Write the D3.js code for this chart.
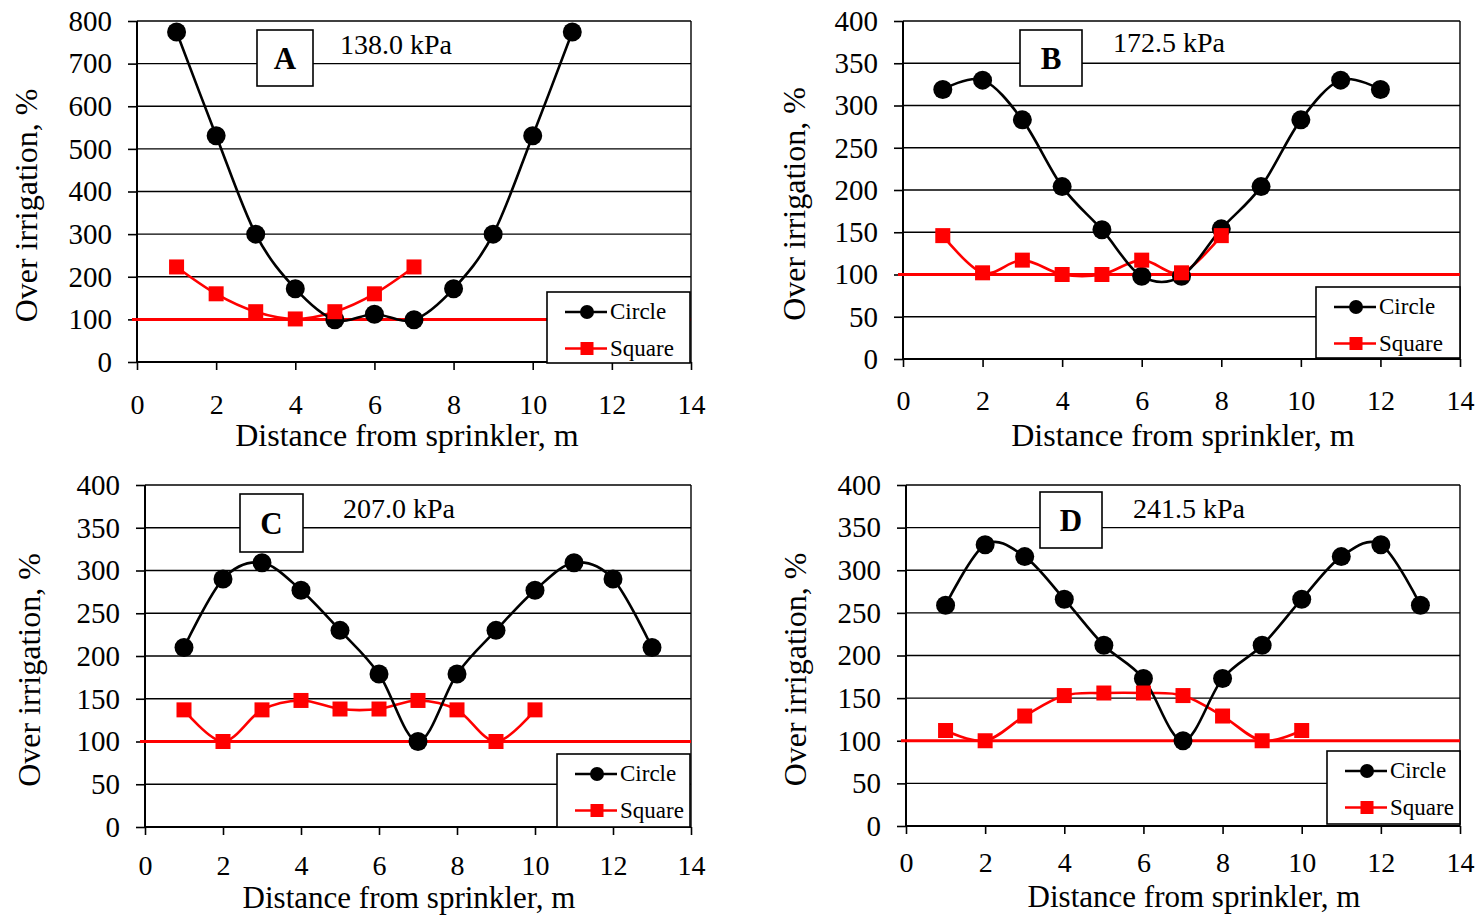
<!DOCTYPE html>
<html>
<head>
<meta charset="utf-8">
<script src="https://cdn.jsdelivr.net/npm/d3@7"></script>
<style>
  html, body { margin: 0; padding: 0; background: #fff; }
  svg { display: block; font-family: "Liberation Serif", "Times New Roman", serif; }
</style>
</head>
<body>
<svg id="chart" width="1480" height="919"></svg>
<script>
// Over-irrigation (%) versus distance from the sprinkler, for circle and square layouts
const panelLetters = ["A", "B", "C", "D"];
const pressureLabels = ["138.0 kPa", "172.5 kPa", "207.0 kPa", "241.5 kPa"];
const seriesNames = ["Circle", "Square"];

const xTickValues = [0, 2, 4, 6, 8, 10, 12, 14];
const yTicksA = [0, 100, 200, 300, 400, 500, 600, 700, 800];
const yTicksBCD = [0, 50, 100, 150, 200, 250, 300, 350, 400];
const referenceLevel = 100;

// 138.0 kPa
const circleDistA = [1, 2, 3, 4, 5, 6, 7, 8, 9, 10, 11];
const circleA = [774, 531, 300, 172, 99, 112, 99, 172, 300, 531, 774];
const squareDistA = [1, 2, 3, 4, 5, 6, 7];
const squareA = [223, 160, 118, 101, 118, 160, 223];

// 172.5 kPa
const circleDistB = [1, 2, 3, 4, 5, 6, 7, 8, 9, 10, 11, 12];
const circleB = [319, 330, 283, 204, 153, 98, 98, 154, 204, 283, 330, 319];
const squareDistB = [1, 2, 3, 4, 5, 6, 7, 8];
const squareB = [146, 102, 117, 100, 100, 117, 102, 146];

// 207.0 kPa
const circleDistC = [1, 2, 3, 4, 5, 6, 7, 8, 9, 10, 11, 12, 13];
const circleC = [210, 290, 309, 277, 230, 179, 100, 179, 230, 277, 309, 290, 210];
const squareDistC = [1, 2, 3, 4, 5, 6, 7, 8, 9, 10];
const squareC = [137, 100, 137, 148, 138, 138, 148, 137, 100, 137];

// 241.5 kPa
const circleDistD = [1, 2, 3, 4, 5, 6, 7, 8, 9, 10, 11, 12, 13];
const circleD = [259, 330, 316, 266, 212, 173, 100, 173, 212, 266, 316, 330, 259];
const squareDistD = [1, 2, 3, 4, 5, 6, 7, 8, 9, 10];
const squareD = [112, 100, 129, 153, 156, 156, 153, 129, 100, 112];

// Panel geometry (pixels)
const layout = [
  { left: 137, right: 691, top: 21, bottom: 362, yTitleX: 37, xTitleX: 407, xTitleY: 446, xTitleSize: 32, xLabelY: 414,
    box: [257, 30, 56, 56], pressX: 340, pressY: 54, legend: [547, 292, 143, 71] },
  { left: 903, right: 1460, top: 21, bottom: 359, yTitleX: 805, xTitleX: 1183, xTitleY: 446, xTitleSize: 32, xLabelY: 410,
    box: [1020, 30, 62, 56], pressX: 1113, pressY: 52, legend: [1316, 287, 144, 71] },
  { left: 145, right: 691, top: 485, bottom: 827, yTitleX: 40, xTitleX: 409, xTitleY: 908, xTitleSize: 31, xLabelY: 875,
    box: [240, 494, 63, 58], pressX: 343, pressY: 518, legend: [557, 754, 133, 73] },
  { left: 906, right: 1460, top: 485, bottom: 826, yTitleX: 806, xTitleX: 1194, xTitleY: 907, xTitleSize: 31, xLabelY: 872,
    box: [1040, 492, 62, 56], pressX: 1133, pressY: 518, legend: [1327, 751, 133, 73] }
];

const panelData = [
  { yTicks: yTicksA, circle: [circleDistA, circleA], square: [squareDistA, squareA] },
  { yTicks: yTicksBCD, circle: [circleDistB, circleB], square: [squareDistB, squareB] },
  { yTicks: yTicksBCD, circle: [circleDistC, circleC], square: [squareDistC, squareC] },
  { yTicks: yTicksBCD, circle: [circleDistD, circleD], square: [squareDistD, squareD] }
];

const svg = d3.select("#chart");
const BLACK = "#000000";
const RED = "#ff0000";
const SERIF = "Liberation Serif, Times New Roman, serif";

function drawMarker(g, type, cx, cy, size) {
  if (type === "circle") {
    g.append("circle").attr("cx", cx).attr("cy", cy).attr("r", size / 2).attr("fill", BLACK);
  } else {
    g.append("rect").attr("x", cx - size / 2).attr("y", cy - size / 2)
      .attr("width", size).attr("height", size).attr("fill", RED);
  }
}

panelData.forEach((pd, i) => {
  const L = layout[i];
  const g = svg.append("g");
  const yMax = d3.max(pd.yTicks);

  const x = d3.scaleLinear().domain([0, 14]).range([L.left, L.right]);
  const y = d3.scaleLinear().domain([0, yMax]).range([L.bottom, L.top]);

  // Horizontal gridlines (the top one closes the frame)
  g.append("g").selectAll("line").data(pd.yTicks.filter(v => v > 0)).join("line")
    .attr("x1", L.left).attr("x2", L.right)
    .attr("y1", d => y(d)).attr("y2", d => y(d))
    .attr("stroke", BLACK).attr("stroke-width", 1.4);

  // Right border
  g.append("line").attr("x1", x(14)).attr("x2", x(14)).attr("y1", L.top).attr("y2", L.bottom)
    .attr("stroke", BLACK).attr("stroke-width", 1.4);

  // Y axis
  const yAxis = d3.axisLeft(y).tickValues(pd.yTicks).tickSize(9).tickPadding(16).tickFormat(d3.format("d"));
  const ya = g.append("g").attr("transform", `translate(${L.left},0)`).call(yAxis);
  ya.select(".domain").attr("stroke", BLACK).attr("stroke-width", 2).attr("d", `M0,${L.top}V${L.bottom}`);
  ya.selectAll(".tick line").attr("stroke", BLACK).attr("stroke-width", 1.6);
  ya.selectAll(".tick text").attr("fill", BLACK).attr("font-size", 29).attr("font-family", SERIF);

  // X axis
  const xAxis = d3.axisBottom(x).tickValues(xTickValues).tickSize(8).tickPadding(0).tickFormat(d3.format("d"));
  const xa = g.append("g").attr("transform", `translate(0,${L.bottom})`).call(xAxis);
  xa.select(".domain").attr("stroke", BLACK).attr("stroke-width", 2).attr("d", `M${L.left},0H${L.right}`);
  xa.selectAll(".tick line").attr("stroke", BLACK).attr("stroke-width", 1.6);
  xa.selectAll(".tick text").attr("fill", BLACK).attr("font-size", 28).attr("font-family", SERIF)
    .attr("dy", null).attr("y", L.xLabelY - L.bottom);

  // Reference line at 100 %
  g.append("line").attr("x1", L.left - 5).attr("x2", x(14))
    .attr("y1", y(referenceLevel)).attr("y2", y(referenceLevel))
    .attr("stroke", RED).attr("stroke-width", 3);

  // Panel letter box
  const [bx, by, bw, bh] = L.box;
  g.append("rect").attr("x", bx).attr("y", by).attr("width", bw).attr("height", bh)
    .attr("fill", "#fff").attr("stroke", BLACK).attr("stroke-width", 1.6);
  g.append("text").attr("x", bx + bw / 2).attr("y", by + bh / 2 + 11)
    .attr("text-anchor", "middle").attr("font-size", 31).attr("font-weight", "bold")
    .text(panelLetters[i]);

  // Operating pressure
  g.append("text").attr("x", L.pressX).attr("y", L.pressY).attr("font-size", 28)
    .text(pressureLabels[i]);

  // Series
  const lineGen = d3.line().x(d => x(d[0])).y(d => y(d[1])).curve(d3.curveCardinal.tension(0));
  const circlePts = d3.zip(pd.circle[0], pd.circle[1]);
  const squarePts = d3.zip(pd.square[0], pd.square[1]);

  g.append("path").datum(squarePts).attr("d", lineGen)
    .attr("fill", "none").attr("stroke", RED).attr("stroke-width", 2.6);
  g.append("path").datum(circlePts).attr("d", lineGen)
    .attr("fill", "none").attr("stroke", BLACK).attr("stroke-width", 2.6);

  const mk = g.append("g");
  circlePts.forEach(p => drawMarker(mk, "circle", x(p[0]), y(p[1]), 19));
  squarePts.forEach(p => drawMarker(mk, "square", x(p[0]), y(p[1]), 15));

  // Axis titles
  g.append("text")
    .attr("transform", `translate(${L.yTitleX},${(L.top + L.bottom) / 2 + 14}) rotate(-90)`)
    .attr("text-anchor", "middle").attr("font-size", 32)
    .text("Over irrigation, %");
  g.append("text").attr("x", L.xTitleX).attr("y", L.xTitleY)
    .attr("text-anchor", "middle").attr("font-size", L.xTitleSize)
    .text("Distance from sprinkler, m");

  // Legend
  const [lx, ly, lw, lh] = L.legend;
  const lg = g.append("g");
  lg.append("rect").attr("x", lx).attr("y", ly).attr("width", lw).attr("height", lh)
    .attr("fill", "#fff").attr("stroke", BLACK).attr("stroke-width", 1.6);
  seriesNames.forEach((name, k) => {
    const ry = ly + 20 + k * 36.5;
    const color = k === 0 ? BLACK : RED;
    lg.append("line").attr("x1", lx + 18).attr("x2", lx + 60).attr("y1", ry).attr("y2", ry)
      .attr("stroke", color).attr("stroke-width", 2.6);
    drawMarker(lg, k === 0 ? "circle" : "square", lx + 40, ry, k === 0 ? 14 : 13);
    lg.append("text").attr("x", lx + 63).attr("y", ry + 7).attr("font-size", 23).text(name);
  });
});
</script>
</body>
</html>
